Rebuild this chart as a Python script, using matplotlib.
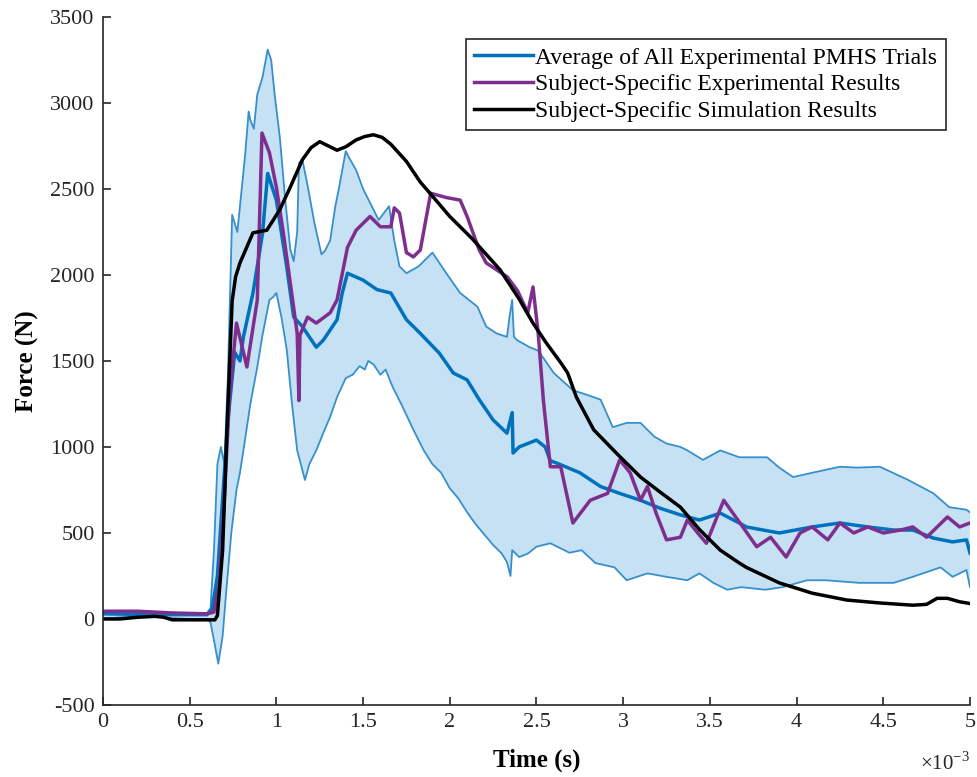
import numpy as np
import matplotlib.pyplot as plt
from matplotlib.ticker import FuncFormatter

plt.rcParams['font.family'] = ['Liberation Serif', 'DejaVu Serif']
plt.rcParams['mathtext.fontset'] = 'custom'
plt.rcParams['mathtext.rm'] = 'Liberation Serif'
plt.rcParams['axes.unicode_minus'] = False

#
# Curves, time in ms, force in N
#
t_upper = [0.0, 0.1, 0.2, 0.3, 0.4, 0.5, 0.6, 0.62, 0.64, 0.66, 0.68, 0.70, 0.72, 0.745,
           0.76, 0.775, 0.80, 0.82, 0.84, 0.85, 0.87, 0.89, 0.92, 0.95, 0.97, 0.99, 1.02,
           1.05, 1.08, 1.10, 1.12, 1.13, 1.15, 1.18, 1.22, 1.26, 1.28, 1.31, 1.34, 1.36,
           1.40, 1.42, 1.46, 1.50, 1.55, 1.59, 1.62, 1.65, 1.68, 1.71, 1.75, 1.82, 1.90,
           1.98, 2.06, 2.16, 2.21, 2.27, 2.33, 2.345, 2.36, 2.37, 2.39, 2.46, 2.51, 2.60,
           2.71, 2.80, 2.87, 2.94, 3.02, 3.10, 3.18, 3.25, 3.33, 3.37, 3.46, 3.56, 3.67,
           3.71, 3.83, 3.90, 3.98, 4.09, 4.25, 4.35, 4.48, 4.64, 4.79, 4.88, 4.98, 5.0]
f_upper = [40, 45, 40, 35, 30, 30, 35, 60, 400, 900, 1000, 900, 1400, 2350,
           2300, 2250, 2500, 2700, 2950, 2900, 2850, 3050, 3150, 3310, 3250, 3050, 2800,
           2450, 2150, 2080, 2250, 2650, 2670, 2520, 2300, 2120, 2140, 2200, 2400, 2500,
           2720, 2680, 2610, 2500, 2400, 2320, 2360, 2400, 2200, 2050, 2010, 2050, 2130,
           2010, 1895, 1815, 1700, 1660, 1640, 1760, 1855, 1640, 1620, 1580, 1560, 1430,
           1330, 1300, 1275, 1115, 1140, 1140, 1060, 1020, 1000, 980, 925, 980, 940,
           940, 940, 880, 825, 850, 885, 880, 885, 810, 730, 650, 635, 620]

t_lower = [0.0, 0.1, 0.2, 0.3, 0.4, 0.5, 0.6, 0.62, 0.645, 0.665, 0.69, 0.71, 0.74, 0.77,
           0.79, 0.81, 0.85, 0.89, 0.92, 0.96, 0.98, 1.0, 1.03, 1.06, 1.09, 1.12,
           1.165, 1.19, 1.23, 1.27, 1.31, 1.35, 1.40, 1.44, 1.48, 1.51, 1.53, 1.56, 1.60,
           1.63, 1.67, 1.72, 1.79, 1.85, 1.90, 1.95, 2.00, 2.05, 2.10, 2.15, 2.20, 2.25,
           2.30, 2.33, 2.35, 2.36, 2.40, 2.45, 2.50, 2.58, 2.69, 2.76, 2.84, 2.95, 3.02,
           3.14, 3.25, 3.37, 3.44, 3.52, 3.60, 3.68, 3.82, 3.92, 4.06, 4.17, 4.36, 4.56,
           4.67, 4.83, 4.90, 4.98, 5.0]
f_lower = [0, 10, 15, 15, 5, 0, 0, -20, -150, -260, -100, 150, 500, 750,
           850, 980, 1250, 1465, 1650, 1855, 1870, 1895, 1750, 1565, 1250, 980,
           808, 900, 980, 1080, 1175, 1290, 1400, 1420, 1470, 1450, 1500, 1480, 1420,
           1450, 1350, 1250, 1100, 980, 900, 850, 760, 700, 620, 550, 490, 430,
           380, 330, 250, 400, 360, 380, 420, 440, 385, 400, 325, 300, 225,
           265, 245, 225, 265, 210, 170, 185, 170, 185, 225, 225, 210, 210,
           245, 300, 245, 285, 185]

t_mean = [0.0, 0.3, 0.6, 0.63, 0.66, 0.69, 0.72, 0.76, 0.79, 0.81, 0.865, 0.92, 0.95,
          1.0, 1.06, 1.10, 1.15, 1.23, 1.27, 1.35, 1.38, 1.41, 1.50, 1.58, 1.66, 1.75,
          1.83, 1.94, 2.02, 2.10, 2.17, 2.25, 2.33, 2.36, 2.365, 2.40, 2.50, 2.55, 2.58,
          2.62, 2.75, 2.87, 2.98, 3.10, 3.21, 3.33, 3.44, 3.56, 3.67, 3.71, 3.90, 4.09,
          4.25, 4.41, 4.56, 4.67, 4.79, 4.90, 4.98, 5.0]
f_mean = [30, 25, 25, 60, 250, 700, 1150, 1550, 1500, 1640, 1895, 2240, 2590,
          2435, 2045, 1755, 1700, 1580, 1620, 1740, 1895, 2010, 1970, 1915, 1895, 1740,
          1660, 1545, 1430, 1390, 1275, 1157, 1080, 1200, 965, 1000, 1040, 1000, 920,
          905, 850, 770, 730, 690, 645, 605, 575, 615, 558, 535, 500, 535,
          558, 535, 517, 517, 470, 448, 460, 384]

t_subj = [0.0, 0.2, 0.4, 0.6, 0.64, 0.67, 0.70, 0.73, 0.77, 0.83, 0.89, 0.917, 0.96,
          1.0, 1.04, 1.08, 1.12, 1.13, 1.136, 1.18, 1.23, 1.31, 1.35, 1.41, 1.46, 1.54,
          1.60, 1.66, 1.68, 1.71, 1.75, 1.79, 1.83, 1.89, 1.98, 2.06, 2.10, 2.17, 2.21,
          2.33, 2.39, 2.45, 2.48, 2.51, 2.54, 2.58, 2.64, 2.71, 2.81, 2.91, 2.98, 3.04,
          3.10, 3.14, 3.19, 3.25, 3.33, 3.37, 3.43, 3.48, 3.58, 3.69, 3.77, 3.85, 3.94,
          4.02, 4.09, 4.18, 4.25, 4.33, 4.41, 4.50, 4.60, 4.67, 4.75, 4.87, 4.94, 5.0]
f_subj = [45, 45, 35, 30, 40, 200, 700, 1300, 1720, 1465, 1855, 2825, 2710,
          2510, 2245, 1955, 1660, 1270, 1650, 1755, 1720, 1780, 1855, 2160, 2260, 2340,
          2280, 2280, 2390, 2360, 2130, 2105, 2145, 2475, 2450, 2435, 2340, 2145, 2070,
          1990, 1910, 1780, 1930, 1660, 1270, 885, 885, 558, 690, 730, 925, 850,
          690, 770, 615, 460, 475, 575, 500, 440, 690, 535, 420, 475, 360,
          500, 535, 460, 558, 500, 535, 500, 517, 535, 475, 593, 535, 558]

t_sim = [0.0, 0.1, 0.2, 0.3, 0.35, 0.4, 0.5, 0.645, 0.66, 0.69, 0.715, 0.745, 0.765,
         0.79, 0.865, 0.945, 1.02, 1.08, 1.15, 1.20, 1.25, 1.30, 1.35, 1.40, 1.46, 1.51,
         1.56, 1.61, 1.66, 1.75, 1.83, 1.89, 2.0, 2.13, 2.29, 2.40, 2.48, 2.56, 2.64,
         2.68, 2.73, 2.83, 2.96, 3.10, 3.21, 3.33, 3.44, 3.56, 3.67, 3.71, 3.90, 4.09,
         4.29, 4.48, 4.67, 4.75, 4.81, 4.87, 4.94, 5.0]
f_sim = [0, 0, 10, 15, 10, -5, -5, -5, 20, 400, 1100, 1850, 1990,
         2070, 2245, 2260, 2380, 2510, 2670, 2740, 2775, 2750, 2725, 2745, 2785, 2805,
         2815, 2800, 2760, 2660, 2540, 2470, 2340, 2210, 2030, 1860, 1720, 1600, 1490,
         1430, 1290, 1100, 965, 825, 740, 650, 520, 400, 325, 300, 210, 150,
         110, 93, 80, 85, 120, 120, 100, 90]

labels = ['Average of All Experimental PMHS Trials',
          'Subject-Specific Experimental Results',
          'Subject-Specific Simulation Results']

ms = 1e-3
fig = plt.figure(figsize=(9.77, 7.77), dpi=100)
ax = fig.add_axes([0.1054, 0.0927, 0.8874, 0.8855])

band_x = np.concatenate([np.array(t_upper), np.array(t_lower)[::-1]]) * ms
band_y = np.concatenate([np.array(f_upper), np.array(f_lower)[::-1]])
ax.fill(band_x, band_y, color='#c6e1f3', lw=0)
ax.plot(np.array(t_upper) * ms, f_upper, color='#3690cc', lw=1.3)
ax.plot(np.array(t_lower) * ms, f_lower, color='#3690cc', lw=1.3)
ax.plot(np.array(t_mean) * ms, f_mean, color='#0072BD', lw=2.5, label=labels[0])
ax.plot(np.array(t_subj) * ms, f_subj, color='#7E2F8E', lw=2.5, label=labels[1])
ax.plot(np.array(t_sim) * ms, f_sim, color='black', lw=2.5, label=labels[2])

ax.set_xlim(0, 5 * ms)
ax.set_ylim(-500, 3500)
ax.set_xticks(np.arange(0, 5.01, 0.5) * ms)
ax.set_yticks(np.arange(-500, 3501, 500))
ax.xaxis.set_major_formatter(FuncFormatter(lambda v, p: f'{v / ms:g}'))
ax.tick_params(direction='in', length=6, width=1.2, labelsize=16, colors='#262626', pad=6)
for s in ['top', 'right']:
    ax.spines[s].set_visible(False)
for s in ['left', 'bottom']:
    ax.spines[s].set_linewidth(1.2)
    ax.spines[s].set_color('#262626')

ax.set_xlabel('Time (s)', fontsize=18, fontweight='bold', labelpad=12)
ax.set_ylabel('Force (N)', fontsize=18, fontweight='bold', labelpad=8)
ax.text(1.0, -0.085, '\u00d710$^{-3}$', transform=ax.transAxes, ha='right', va='center',
        fontsize=15, color='#262626')

leg = ax.legend(loc='upper right', bbox_to_anchor=(0.972, 0.968), fontsize=17,
                fancybox=False, framealpha=1, edgecolor='#262626', handlelength=2.5,
                handletextpad=0.1, labelspacing=0.22, borderpad=0.35, borderaxespad=0)
leg.get_frame().set_linewidth(1.2)

fig.savefig('out.png', dpi=100)
